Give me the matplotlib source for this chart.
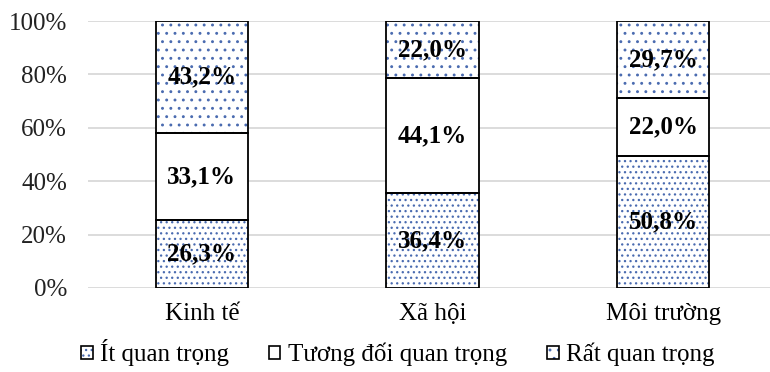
import numpy as np
import matplotlib
matplotlib.use('Agg')
from matplotlib import pyplot as plt
from matplotlib.patches import Patch
from matplotlib.legend_handler import HandlerTuple

categories = ['Kinh tế', 'Xã hội', 'Môi trường']
series     = ['Ít quan trọng', 'Tương đối quan trọng', 'Rất quan trọng']
it_qt      = [26.3, 36.4, 50.8]
tuong_doi  = [33.1, 44.1, 22.0]
rat_qt     = [43.2, 22.0, 29.7]

plt.rcParams['font.family'] = ['Liberation Serif', 'DejaVu Serif']
plt.rcParams['hatch.linewidth'] = 0.9
hatches = ['...', None, '..']
dotcol  = '#4a6bb0'

vals  = np.array([it_qt, tuong_doi, rat_qt])
share = vals / vals.sum(axis=0) * 100

fig = plt.figure(figsize=(7.7, 3.72), dpi=100)
ax = fig.add_axes([88/770, 1-288/372, 1-88/770, 267/372])

x = np.arange(len(categories))
w = 0.40
bottom = np.zeros(len(categories))
for i in range(len(series)):
    ax.bar(x, share[i], w, bottom=bottom, color='white', edgecolor=dotcol,
           hatch=hatches[i], linewidth=0, zorder=2)
    ax.bar(x, share[i], w, bottom=bottom, fill=False, edgecolor='black',
           linewidth=1.3, zorder=3)
    for j in range(len(categories)):
        ax.text(x[j], bottom[j] + share[i][j]/2, f'{vals[i][j]:.1f}%'.replace('.', ','),
                ha='center', va='center', fontsize=18, fontweight='bold', zorder=4)
    bottom += share[i]

ax.set_xlim(-(202-88)/231, 2 + (770-663)/231)
ax.set_ylim(0, 100)
ax.set_yticks(range(0, 101, 20))
ax.set_yticklabels([f'{v}%' for v in range(0, 101, 20)], fontsize=18, color='#222222')
ax.set_xticks(x)
ax.set_xticklabels(categories, fontsize=18)
ax.tick_params(axis='y', length=0, pad=15)
ax.tick_params(axis='x', length=0, pad=11)
ax.grid(axis='y', color='#d9d9d9', linewidth=1.3, zorder=0)
for s in ax.spines.values():
    s.set_visible(False)

handles = []
for i in range(len(series)):
    h1 = Patch(facecolor='white', edgecolor=dotcol, hatch=hatches[i], linewidth=0)
    h2 = Patch(fill=False, edgecolor='black', linewidth=1.2)
    handles.append((h1, h2))
fig.legend(handles, series, handler_map={tuple: HandlerTuple(ndivide=1)},
           loc='center', bbox_to_anchor=(398/770, 1-353/372), ncol=3, frameon=False,
           fontsize=18, handlelength=0.45, handleheight=0.45, handletextpad=0.3,
           columnspacing=1.6, borderpad=0)

plt.savefig('out.png', dpi=100)
